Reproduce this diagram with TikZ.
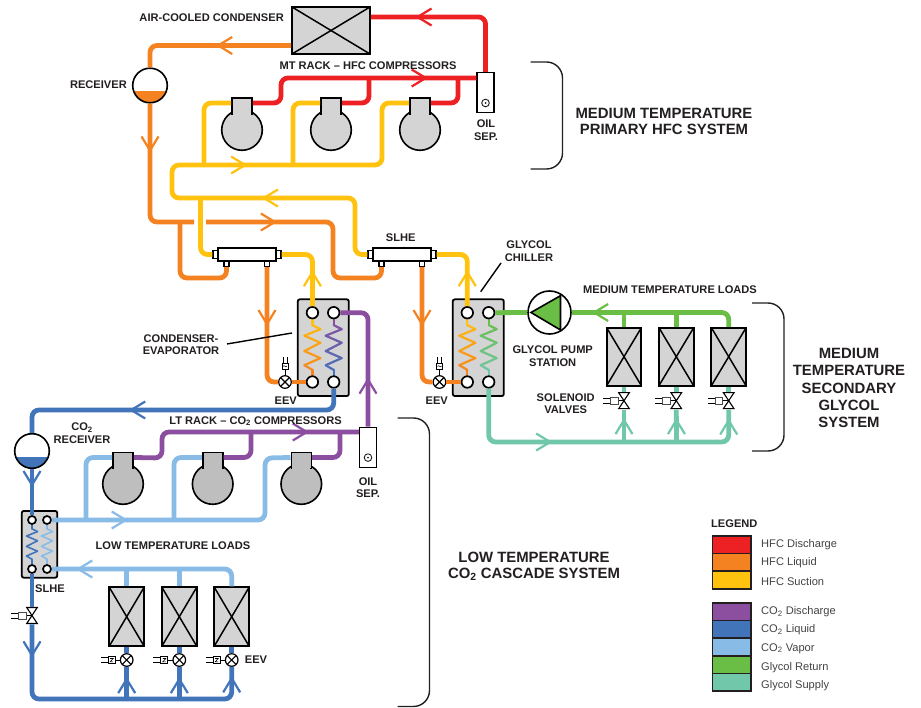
\documentclass[tikz,border=0pt]{standalone}
\usepackage{fontspec}
\setmainfont{Liberation Sans}
\usetikzlibrary{arrows.meta,decorations.markings}
\definecolor{hfcdis}{HTML}{ED2024}
\definecolor{hfcliq}{HTML}{F58220}
\definecolor{hfcsuc}{HTML}{FFC20E}
\definecolor{codis}{HTML}{8C4F9F}
\definecolor{coliq}{HTML}{4274BA}
\definecolor{covap}{HTML}{88BBE6}
\definecolor{glyret}{HTML}{6ABD45}
\definecolor{glysup}{HTML}{70C7A9}
\definecolor{unit}{HTML}{D4D4D4}
\definecolor{ltunit}{HTML}{BEBEBE}
\definecolor{ink}{HTML}{231F20}
\tikzset{
  pipe/.style={line width=4.8pt, rounded corners=7pt},
  flow/.style={postaction={decorate, decoration={markings,
      mark=at position #1 with {\arrow{Straight Barb[length=14pt,width=17pt,line width=2.2pt]}}}}},
  lab/.style={font=\bfseries\fontsize{11.1}{12.6}\selectfont, align=center, text=ink, inner sep=0pt},
  biglab/.style={font=\bfseries\fontsize{14.9}{16}\selectfont, align=center, text=ink, inner sep=0pt},
  leglab/.style={font=\fontsize{11.1}{12}\selectfont, text=ink!85, anchor=west, inner sep=0pt, yshift=-1.5pt},
  xbox/.style={draw=black, line width=1.8pt, fill=unit, inner sep=0pt, minimum width=#1,
    path picture={
      \draw[black, line width=1.5pt] (path picture bounding box.north west) -- (path picture bounding box.south east);
      \draw[black, line width=1.5pt] (path picture bounding box.north east) -- (path picture bounding box.south west);}},
  hxbox/.style={draw=black, line width=1.8pt, fill=unit, rounded corners=2pt, inner sep=0pt},
  port/.style={circle, draw=black, line width=1.7pt, fill=white, inner sep=0pt, minimum size=#1},
  slbody/.style={draw=black, line width=1.5pt, fill=white, inner sep=0pt, minimum width=58pt, minimum height=13pt},
  slcap/.style={draw=black, line width=1.4pt, fill=white, inner sep=0pt, minimum width=5pt, minimum height=8pt},
  slport/.style={draw=black, line width=1.4pt, fill=white, inner sep=0pt, minimum size=5pt},
  neck/.style={draw=black, line width=1.6pt, fill=#1, inner sep=0pt, minimum width=20pt, minimum height=16pt},
  comp/.style={circle, draw=black, line width=1.6pt, fill=#1, inner sep=0pt, minimum size=40.6pt},
  oilsep/.style={draw=black, line width=1.5pt, fill=white, inner sep=0pt, minimum width=17pt, minimum height=40pt},
  tank/.style={circle, draw=black, line width=1.6pt, fill=white, inner sep=0pt, minimum size=34.6pt,
    path picture={\fill[#1] ([yshift=-5.5pt]path picture bounding box.west) rectangle (path picture bounding box.south east);}},
  eev/.style={circle, draw=black, line width=1.2pt, fill=white, inner sep=0pt, minimum size=12.6pt,
    path picture={
      \draw[black, line width=1.1pt] (path picture bounding box.north west) -- (path picture bounding box.south east);
      \draw[black, line width=1.1pt] (path picture bounding box.north east) -- (path picture bounding box.south west);}},
  bowtie/.style={inner sep=0pt, minimum width=12.5pt, minimum height=17.5pt,
    path picture={
      \draw[black, line width=1.1pt, fill=white] ([shift={(-5.3pt,8pt)}]path picture bounding box.center) -- ([shift={(5.3pt,8pt)}]path picture bounding box.center) -- (path picture bounding box.center) -- cycle;
      \draw[black, line width=1.1pt, fill=white] ([shift={(-5.3pt,-8pt)}]path picture bounding box.center) -- ([shift={(5.3pt,-8pt)}]path picture bounding box.center) -- (path picture bounding box.center) -- cycle;}},
  bracket/.style={draw=ink, line width=1.4pt, rounded corners=16pt},
  swatch/.style={draw=ink, line width=1.5pt, inner sep=0pt, minimum width=38.5pt, minimum height=17.6pt},
  % actuators of the valves
  eevup/.pic={
    \draw[black, line width=.8pt] (0,-6.5) -- (0,-13);
    \draw[black, line width=1pt] (-2,-18.5) -- (-2,-25) (2,-18.5) -- (2,-25);
    \draw[black, line width=.9pt, fill=white] (-3,-13) rectangle (3,-19);
    \draw[black, line width=.5pt] (-2,-15.5) .. controls (-1,-18) and (1,-13.5) .. (2,-16);
  },
  eevside/.pic={
    \draw[black, line width=.8pt] (-6.5,0) -- (-11.5,0);
    \draw[black, line width=1pt] (-18.5,-2.5) -- (-26,-2.5) (-18.5,2.5) -- (-26,2.5);
    \draw[black, line width=.9pt, fill=white] (-11.5,-3.5) rectangle (-18.5,3.5);
    \draw[black, line width=.6pt] (-16.5,-1.5) -- (-13.5,-1.5) -- (-16.5,1.8) -- (-13.5,1.8);
  },
  solside/.pic={
    \draw[black, line width=.8pt] (0,0) -- (-6,0);
    \draw[black, line width=1pt] (-13.5,-2.5) -- (-21,-2.5) (-13.5,2.5) -- (-21,2.5);
    \draw[black!70, line width=1pt, fill=white] (-6,-3.5) rectangle (-13.5,3.5);
  },
}
% one coil of a heat exchanger: line width, x, y, half width, height, top colour, bottom colour
\newcommand{\zigzag}[7][2.2pt]{
  \foreach \xb/\yb [count=\n, remember=\xb as \xa (initially 0), remember=\yb as \ya (initially 0)] in
      {0/.12,1/.19,-1/.30,1/.42,-1/.56,1/.68,-1/.80,0/.88,0/1} {
    \pgfmathtruncatemacro{\pct}{100-100*(\n-1)/8}
    \draw[color=#6!\pct!#7, line width=#1, line cap=round]
      ({#2+\xa*#4},{#3+\ya*#5}) -- ({#2+\xb*#4},{#3+\yb*#5});
  }
}
\begin{document}
\begin{tikzpicture}[x=1pt,y=-1pt]
  \useasboundingbox (0,0) rectangle (921,708);

  % Junctions on the pipes
  \foreach \n/\x/\y in {jlA/180/222, jsA/200.5/198, jsB/204/165, jsC/293/165, jdA/369/78, jdB/458/78,
      jvA/86/520, jvB/174/520, jpA/251/432, jpB/340/432,
      jtA/624/442, jtB/676.5/442, jbA/126.7/699, jbB/179.3/699}
    \coordinate (\n) at (\x,\y);

  % Medium temperature rack
  \node[xbox=78pt, minimum height=47pt] (cond) at (331,30.5) {};
  \node[tank=hfcliq] (rcv) at (150,85.5) {};
  \foreach \i/\x in {1/242,2/331,3/420} {
    \node[comp=unit] (mtc\i) at (\x,130) {};
    \node[neck=unit] (mtn\i) at (\x,106) {};
    \fill[unit] (\x-9,106) rectangle (\x+9,118);
  }
  \node[oilsep] (oilmt) at (485.5,92.7) {};
  \draw[ink, line width=.9pt] ([yshift=-10.3pt]oilmt.center) circle (3.8pt);
  \fill[ink] ([yshift=-10.3pt]oilmt.center) circle (1pt);

  % Liquid suction heat exchangers
  \foreach \n/\x in {sa/247,sb/402} {
    \node[slbody] (\n b) at (\x,254.5) {};
    \node[slcap] (\n l) at (\x-31.5,254.5) {};
    \node[slcap] (\n r) at (\x+31.5,254.5) {};
    \node[slport] (\n p) at (\x-20.5,264) {};
    \node[slport] (\n q) at (\x+20,264) {};
  }

  % Plate heat exchangers
  \foreach \n/\x/\xa/\xb in {ce/323.3/312.4/333.7,ch/478.3/467.3/488.7} {
    \node[hxbox, minimum width=51pt, minimum height=96.7pt] (\n box) at (\x,347.7) {};
  }
  \zigzag{312.4}{318}{8}{59}{hfcsuc}{hfcliq}
  \zigzag{333.7}{318}{8}{59}{codis}{coliq}
  \zigzag{467.3}{318}{8}{59}{hfcsuc}{hfcliq}
  \zigzag{488.7}{318}{8}{59}{glyret}{glysup}
  \foreach \n/\xa/\xb in {ce/312.4/333.7,ch/467.3/488.7} {
    \node[port=11.5pt] (\n Pa) at (\xa,312.7) {};
    \node[port=11.5pt] (\n Pb) at (\xb,312.7) {};
    \node[port=11.5pt] (\n Pc) at (\xa,382) {};
    \node[port=11.5pt] (\n Pd) at (\xb,382) {};
  }
  \node[eev] (eevA) at (285,382) {};
  \node[eev] (eevB) at (439.5,382) {};
  \pic at (285,382) {eevup};
  \pic at (439.5,382) {eevup};

  % Glycol side
  \node[circle, draw=black, line width=1.6pt, fill=white, inner sep=0pt, minimum size=43pt] (pump) at (549.5,312.5) {};
  \draw[black, line width=1.6pt, fill=glyret] (531,312.5) -- (560.5,295.7) -- (560.5,330) -- cycle;
  \foreach \i/\x in {1/624,2/676.3,3/728.7} {
    \node[xbox=34.7pt, minimum height=58pt] (gl\i) at (\x,356.7) {};
    \node[bowtie] (sv\i) at (\x,400.7) {};
    \pic at (\x,400.7) {solside};
  }

  % CO2 rack
  \node[tank=coliq] (rcvlt) at (32,451) {};
  \foreach \i/\x in {1/123,2/212.7,3/301.3} {
    \node[comp=ltunit] (ltc\i) at (\x,484) {};
    \node[neck=ltunit] (ltn\i) at (\x,460.5) {};
    \fill[ltunit] (\x-9,460) rectangle (\x+9,472);
  }
  \node[oilsep] (oillt) at (368,447.3) {};
  \draw[ink, line width=.9pt] ([yshift=-10.3pt]oillt.center) circle (3.8pt);
  \fill[ink] ([yshift=-10.3pt]oillt.center) circle (1pt);
  \node[hxbox, minimum width=35.5pt, minimum height=66.7pt] (hxbox) at (39.5,544.3) {};
  \zigzag[1.6pt]{32}{524}{5.5}{40}{coliq}{coliq}
  \zigzag[1.6pt]{47}{524}{5.5}{40}{covap}{covap}
  \node[port=8pt] (hxPa) at (32,520) {};
  \node[port=8pt] (hxPb) at (47,520) {};
  \node[port=8pt] (hxPc) at (32,569) {};
  \node[port=8pt] (hxPd) at (47,569) {};
  \node[bowtie] (svlt) at (32,615.5) {};
  \pic at (32,615.5) {solside};
  \foreach \i/\x in {1/126.7,2/179.3,3/231.7} {
    \node[xbox=34.7pt, minimum height=58.7pt] (ll\i) at (\x,616.7) {};
    \node[eev] (ee\i) at (\x,660) {};
    \pic at (\x,660) {eevside};
  }

  % HFC discharge
  \draw[pipe, hfcdis, flow=122pt] (oilmt.north) |- ([yshift=13.5pt]cond.east);
  \draw[pipe, hfcdis, flow=194pt] ([yshift=3pt]mtn1.east) -- (281,103) -- (281,78) -- ([yshift=14.7pt]oilmt.west);
  \draw[pipe, hfcdis] ([yshift=3pt]mtn2.east) -| (jdA);
  \draw[pipe, hfcdis] ([yshift=3pt]mtn3.east) -| (jdB);

  % HFC liquid
  \draw[pipe, hfcliq, flow=75pt] ([yshift=-15pt]cond.west) -| (rcv.north);
  \draw[pipe, hfcliq, flow=49pt] (rcv.south) |- (194,222);
  \draw[pipe, hfcliq, flow=71pt] (206,222) -| (333,278) -| (sbp.south);
  \draw[pipe, hfcliq] (jlA) -- (180,278) -| (sap.south);
  \draw[pipe, hfcliq, flow=59pt] (saq.south) |- (eevA.west);
  \draw[pipe, hfcliq] (eevA.east) -- (cePc.west);
  \draw[pipe, hfcliq, flow=59pt] (sbq.south) |- (eevB.west);
  \draw[pipe, hfcliq] (eevB.east) -- (chPc.west);

  % HFC suction
  \draw[pipe, hfcsuc, flow=156pt, flow=348pt] (sbl.west) -- (355,254.5) -- (355,198) -- (172,198) -- (172,165) -- (382,165) -- (382,103) -- ([yshift=3pt]mtn3.west);
  \draw[pipe, hfcsuc] (sal.west) -- (200.5,254.5) -- (jsA);
  \draw[pipe, hfcsuc] (jsB) |- ([yshift=3pt]mtn1.west);
  \draw[pipe, hfcsuc] (jsC) |- ([yshift=3pt]mtn2.west);
  \draw[pipe, hfcsuc, flow=36pt] (cePa.north) |- (sar.east);
  \draw[pipe, hfcsuc, flow=36pt] (chPa.north) |- (sbr.east);

  % CO2 discharge
  \draw[pipe, codis, flow=49pt] (oillt.north) |- (cePb.east);
  \draw[pipe, codis, flow=195pt] ([yshift=3pt]ltn1.east) -- (162,458) -- (162,432) -- ([yshift=15.3pt]oillt.west);
  \draw[pipe, codis] ([yshift=3pt]ltn2.east) -| (jpA);
  \draw[pipe, codis] ([yshift=3pt]ltn3.east) -| (jpB);

  % CO2 liquid
  \draw[pipe, coliq, flow=223pt] (cePd.south) -- (333.7,410) -- (32,410) -- (rcvlt.north);
  \draw[pipe, coliq, flow=18pt] (rcvlt.south) -- (hxPa.north);
  \draw[pipe, coliq] (hxPc.south) -- (svlt.north);
  \draw[pipe, coliq, flow=33pt, flow=291pt] (svlt.south) -- (32,699) -| (ee3.south);
  \draw[pipe, coliq, flow=22pt] (jbA) -- (ee1.south);
  \draw[pipe, coliq, flow=22pt] (jbB) -- (ee2.south);
  \foreach \i in {1,2,3}
    \draw[pipe, coliq] (ee\i.north) -- (ll\i.south);

  % CO2 vapor
  \draw[pipe, covap, flow=76pt] (hxPb.east) -- (265,520) -- (265,458) -- ([yshift=3pt]ltn3.west);
  \draw[pipe, covap] (jvA) |- ([yshift=3pt]ltn1.west);
  \draw[pipe, covap] (jvB) |- ([yshift=3pt]ltn2.west);
  \draw[pipe, covap, flow=170pt] (ll3.north) |- (hxPd.east);
  \draw[pipe, covap] (ll1.north) -- (ll1.north |- hxPd.east);
  \draw[pipe, covap] (ll2.north) -- (ll2.north |- hxPd.east);

  % Glycol return
  \draw[pipe, glyret, flow=148pt] (gl3.north) |- (pump.east);
  \draw[pipe, glyret] (gl1.north) -- (gl1.north |- pump.east);
  \draw[pipe, glyret] (gl2.north) -- (gl2.north |- pump.east);
  \draw[pipe, glyret] (pump.west) -- (chPb.east);

  % Glycol supply
  \draw[pipe, glysup, flow=114pt, flow=311pt] (chPd.south) -- (488.7,442) -| (sv3.south);
  \draw[pipe, glysup, flow=24pt] (jtA) -- (sv1.south);
  \draw[pipe, glysup, flow=24pt] (jtB) -- (sv2.south);
  \foreach \i in {1,2,3}
    \draw[pipe, glysup] (sv\i.north) -- (gl\i.south);

  % Labels
  \node[lab, anchor=east] (lbcond) at (284,18) {AIR-COOLED CONDENSER};
  \node[lab] (lbmt) at (368,66) {MT RACK – HFC COMPRESSORS};
  \node[lab, anchor=east] (lbrcv) at (127,85) {RECEIVER};
  \node[lab] (lboilmt) at (486,130) {OIL\\SEP.};
  \node[lab] (lbsb) at (400.7,238) {SLHE};
  \node[lab] (lbchil) at (529,251) {GLYCOL\\CHILLER};
  \node[lab] (lbce) at (181,344.5) {CONDENSER-\\EVAPORATOR};
  \node[lab] (lbeea) at (285.7,401) {EEV};
  \node[lab] (lbeeb) at (436.7,401) {EEV};
  \node[lab] (lbgl) at (670,290) {MEDIUM TEMPERATURE LOADS};
  \node[lab] (lbpump) at (552.7,356) {GLYCOL PUMP\\STATION};
  \node[lab] (lbsol) at (565.7,403.5) {SOLENOID\\VALVES};
  \node[lab] (lbrlt) at (82,433) {CO\textsubscript{2}\\RECEIVER};
  \node[lab] (lblt) at (255.5,421) {LT RACK – CO\textsubscript{2} COMPRESSORS};
  \node[lab] (lboillt) at (368,487.5) {OIL\\SEP.};
  \node[lab] (lbll) at (173,546) {LOW TEMPERATURE LOADS};
  \node[lab] (lbhx) at (50,589) {SLHE};
  \node[lab] (lbeec) at (256,660) {EEV};

  % Leader lines
  \coordinate (lda) at (227,344);
  \coordinate (ldb) at (292,333);
  \coordinate (ldc) at (501,263);
  \coordinate (ldd) at (480.7,291.7);
  \draw[black, line width=1.4pt] (lda) -- (ldb);
  \draw[black, line width=1.4pt] (ldc) -- (ldd);

  % Brackets and system names
  \draw[bracket] (530.5,62) -- (562.5,62) -- (562.5,169) -- (530.5,169);
  \draw[bracket] (752,303) -- (784,303) -- (784,451) -- (752,451);
  \draw[bracket] (397.5,418) -- (429.5,418) -- (429.5,706.5) -- (397.5,706.5);
  \node[biglab] (sysa) at (664,121) {MEDIUM TEMPERATURE\\PRIMARY HFC SYSTEM};
  \node[biglab, font=\bfseries\fontsize{14.9}{17.3}\selectfont] (sysb) at (849,388) {MEDIUM\\TEMPERATURE\\SECONDARY\\GLYCOL\\SYSTEM};
  \node[biglab] (sysc) at (534,566) {LOW TEMPERATURE\\CO\textsubscript{2} CASCADE SYSTEM};

  % Legend
  \node[lab, anchor=west] (lbleg) at (711,524) {LEGEND};
  \foreach \col/\y/\ty/\txt in {hfcdis/544.8/543/HFC Discharge, hfcliq/562.4/561/HFC Liquid, hfcsuc/580/580/HFC Suction,
      codis/611.8/610/CO\textsubscript{2} Discharge, coliq/629.4/628/CO\textsubscript{2} Liquid, covap/647/647/CO\textsubscript{2} Vapor,
      glyret/664.6/666/Glycol Return, glysup/682.2/684/Glycol Supply} {
    \node[swatch, fill=\col] (sw\col) at (731.5,\y) {};
    \node[leglab] (tx\col) at (761,\ty) {\txt};
  }
\end{tikzpicture}
\end{document}
